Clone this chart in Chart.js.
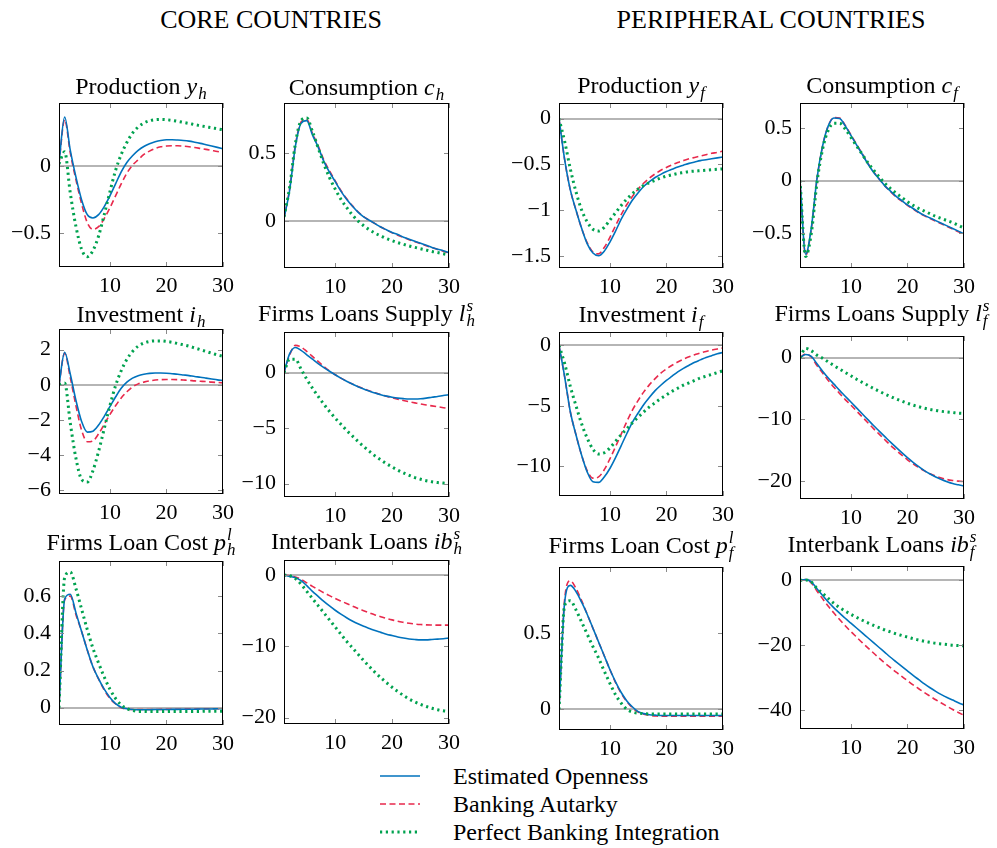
<!DOCTYPE html>
<html><head><meta charset="utf-8">
<script src="https://cdn.jsdelivr.net/npm/chart.js@4.4.1/dist/chart.umd.min.js"></script>
<style>
html,body{margin:0;padding:0;background:#fff;}
body{width:997px;height:848px;position:relative;overflow:hidden;font-family:"Liberation Serif",serif;color:#000;}
canvas.panel{position:absolute;}
.hdr{position:absolute;font-size:26px;line-height:26px;white-space:nowrap;transform:translateX(-50%);}
.leg{position:absolute;font-size:24px;line-height:24px;white-space:nowrap;left:453px;}
</style></head><body>
<div class="hdr" style="left:271px;top:7px">CORE COUNTRIES</div>
<div class="hdr" style="left:771px;top:7px">PERIPHERAL COUNTRIES</div>
<canvas id="legendLines" width="60" height="84" style="position:absolute;left:370px;top:762px"></canvas>
<div class="leg" style="top:764px">Estimated Openness</div>
<div class="leg" style="top:792px">Banking Autarky</div>
<div class="leg" style="top:820px">Perfect Banking Integration</div>
<script>
// ---------------- DATA ----------------
const periods = [1,2,3,4,5,6,7,8,9,10,11,12,13,14,15,16,17,18,19,20,21,22,23,24,25,26,27,28,29,30];
const xTicks = [10,20,30];
const seriesNames = ['Estimated Openness','Banking Autarky','Perfect Banking Integration'];

// Production y_h
const yh_est = [0.03,0.37,0.12,-0.08,-0.25,-0.36,-0.385,-0.36,-0.30,-0.22,-0.13,-0.04,0.03,0.08,0.12,0.15,0.17,0.185,0.195,0.2,0.2,0.198,0.195,0.19,0.182,0.173,0.163,0.153,0.143,0.133];
const yh_aut = [0.02,0.35,0.1,-0.1,-0.28,-0.42,-0.47,-0.45,-0.39,-0.31,-0.22,-0.13,-0.05,0.01,0.05,0.09,0.115,0.135,0.147,0.153,0.155,0.155,0.152,0.148,0.142,0.135,0.128,0.12,0.112,0.105];
const yh_int = [0.02,0.11,-0.2,-0.45,-0.62,-0.675,-0.63,-0.52,-0.36,-0.19,-0.03,0.09,0.18,0.25,0.295,0.325,0.342,0.35,0.352,0.35,0.345,0.338,0.33,0.322,0.313,0.305,0.297,0.29,0.282,0.275];
const yh_ticks = [-0.5,0];
// Consumption c_h
const ch_est = [0.02,0.23,0.55,0.72,0.74,0.635,0.545,0.44,0.36,0.29,0.22,0.16,0.11,0.065,0.03,0.005,-0.02,-0.045,-0.065,-0.085,-0.1,-0.12,-0.135,-0.15,-0.165,-0.18,-0.195,-0.208,-0.22,-0.235];
const ch_aut = [0.02,0.24,0.56,0.73,0.75,0.645,0.555,0.45,0.37,0.295,0.225,0.165,0.113,0.068,0.032,0.005,-0.02,-0.045,-0.067,-0.087,-0.105,-0.122,-0.138,-0.153,-0.168,-0.183,-0.197,-0.21,-0.223,-0.238];
const ch_int = [0.03,0.25,0.57,0.74,0.76,0.66,0.54,0.42,0.32,0.235,0.16,0.1,0.045,0.0,-0.035,-0.065,-0.09,-0.11,-0.13,-0.145,-0.16,-0.172,-0.185,-0.195,-0.205,-0.215,-0.225,-0.233,-0.242,-0.25];
const ch_ticks = [0,0.5];
// Production y_f
const yf_est = [0,-0.45,-0.78,-1.0,-1.2,-1.37,-1.47,-1.5,-1.45,-1.35,-1.23,-1.1,-0.99,-0.89,-0.81,-0.74,-0.69,-0.645,-0.61,-0.58,-0.555,-0.53,-0.51,-0.49,-0.475,-0.46,-0.45,-0.44,-0.43,-0.42];
const yf_aut = [0,-0.45,-0.78,-1.0,-1.2,-1.36,-1.46,-1.48,-1.41,-1.3,-1.17,-1.05,-0.94,-0.85,-0.77,-0.705,-0.65,-0.605,-0.565,-0.535,-0.505,-0.48,-0.46,-0.44,-0.425,-0.41,-0.395,-0.38,-0.37,-0.355];
const yf_int = [0,-0.25,-0.55,-0.8,-1.0,-1.13,-1.21,-1.23,-1.19,-1.11,-1.03,-0.95,-0.88,-0.82,-0.77,-0.73,-0.7,-0.675,-0.65,-0.63,-0.615,-0.6,-0.59,-0.58,-0.575,-0.57,-0.565,-0.56,-0.555,-0.55];
const yf_ticks = [-1.5,-1,-0.5,0];
// Consumption c_f
const cf_est = [0,-0.7,-0.45,0.02,0.33,0.52,0.595,0.59,0.52,0.43,0.34,0.25,0.16,0.08,0.015,-0.05,-0.1,-0.15,-0.19,-0.23,-0.265,-0.3,-0.33,-0.355,-0.38,-0.405,-0.43,-0.455,-0.48,-0.505];
const cf_aut = [0,-0.71,-0.46,0.01,0.33,0.52,0.6,0.595,0.525,0.435,0.345,0.255,0.165,0.085,0.015,-0.05,-0.105,-0.155,-0.195,-0.235,-0.27,-0.305,-0.335,-0.36,-0.385,-0.41,-0.435,-0.46,-0.485,-0.505];
const cf_int = [0,-0.72,-0.5,-0.02,0.3,0.48,0.545,0.545,0.49,0.41,0.33,0.25,0.17,0.1,0.035,-0.025,-0.075,-0.12,-0.16,-0.2,-0.235,-0.265,-0.29,-0.315,-0.34,-0.36,-0.38,-0.4,-0.425,-0.45];
const cf_ticks = [-0.5,0,0.5];
// Investment i_h
const ih_est = [0,1.85,0.6,-0.9,-2.1,-2.7,-2.65,-2.3,-1.8,-1.25,-0.7,-0.2,0.15,0.38,0.52,0.6,0.65,0.67,0.67,0.66,0.63,0.6,0.56,0.52,0.47,0.43,0.38,0.33,0.28,0.24];
const ih_aut = [0,1.8,0.4,-1.2,-2.6,-3.25,-3.2,-2.8,-2.25,-1.7,-1.2,-0.75,-0.4,-0.12,0.05,0.15,0.22,0.27,0.29,0.3,0.3,0.29,0.27,0.25,0.22,0.2,0.18,0.15,0.13,0.11];
const ih_int = [0,0.1,-2.2,-4.2,-5.4,-5.55,-4.9,-3.8,-2.5,-1.2,-0.05,0.8,1.45,1.9,2.2,2.38,2.47,2.5,2.5,2.47,2.42,2.35,2.28,2.2,2.1,2.0,1.9,1.8,1.7,1.62];
const ih_ticks = [-6,-4,-2,0,2];
// Firms Loans Supply l_h^s
const lh_est = [0,1.7,2.25,2.0,1.6,1.2,0.8,0.45,0.12,-0.2,-0.5,-0.78,-1.03,-1.27,-1.48,-1.67,-1.85,-2.0,-2.12,-2.22,-2.3,-2.35,-2.38,-2.38,-2.36,-2.3,-2.22,-2.15,-2.07,-2.0];
const lh_aut = [0,1.6,2.45,2.3,1.9,1.45,1.0,0.55,0.15,-0.2,-0.5,-0.78,-1.03,-1.25,-1.46,-1.65,-1.82,-1.98,-2.13,-2.27,-2.4,-2.52,-2.63,-2.73,-2.83,-2.92,-3.0,-3.08,-3.16,-3.25];
const lh_int = [0,1.2,1.2,0.3,-0.6,-1.4,-2.15,-2.85,-3.5,-4.1,-4.65,-5.2,-5.7,-6.2,-6.65,-7.1,-7.5,-7.85,-8.2,-8.5,-8.78,-9.03,-9.25,-9.45,-9.6,-9.73,-9.83,-9.9,-9.95,-10.0];
const lh_ticks = [-10,-5,0];
// Investment i_f
const if_est = [0,-2.6,-5.5,-7.4,-9.1,-10.5,-11.3,-11.35,-10.9,-10.2,-9.3,-8.3,-7.3,-6.35,-5.6,-4.9,-4.3,-3.75,-3.3,-2.9,-2.55,-2.2,-1.9,-1.65,-1.4,-1.2,-1.0,-0.85,-0.7,-0.58];
const if_aut = [0,-2.6,-5.5,-7.4,-9.1,-10.4,-11.0,-10.9,-10.3,-9.4,-8.4,-7.35,-6.3,-5.35,-4.55,-3.85,-3.25,-2.75,-2.3,-1.95,-1.65,-1.38,-1.15,-0.95,-0.78,-0.62,-0.5,-0.39,-0.3,-0.22];
const if_int = [0,-1.5,-3.4,-5.0,-6.5,-7.7,-8.6,-9.0,-8.9,-8.5,-7.95,-7.4,-6.9,-6.4,-5.95,-5.5,-5.1,-4.75,-4.4,-4.1,-3.8,-3.55,-3.3,-3.1,-2.9,-2.7,-2.55,-2.4,-2.25,-2.1];
const if_ticks = [-10,-5,0];
// Firms Loans Supply l_f^s
const lf_est = [0,0.5,0.2,-1.0,-2.2,-3.3,-4.3,-5.3,-6.25,-7.2,-8.15,-9.1,-10.05,-11.0,-11.9,-12.8,-13.7,-14.55,-15.4,-16.2,-16.95,-17.65,-18.3,-18.85,-19.35,-19.75,-20.1,-20.4,-20.6,-20.8];
const lf_aut = [0,0.6,0.1,-1.3,-2.5,-3.7,-4.8,-5.8,-6.8,-7.7,-8.65,-9.6,-10.55,-11.5,-12.4,-13.3,-14.2,-15.0,-15.8,-16.55,-17.2,-17.8,-18.35,-18.8,-19.2,-19.5,-19.75,-19.9,-20.0,-20.1];
const lf_int = [0,1.5,1.1,0.4,-0.1,-0.7,-1.3,-1.85,-2.4,-2.95,-3.5,-4.0,-4.5,-5.0,-5.45,-5.9,-6.3,-6.7,-7.05,-7.4,-7.7,-7.95,-8.2,-8.4,-8.55,-8.7,-8.8,-8.9,-9.0,-9.05];
const lf_ticks = [-20,-10,0];
// Firms Loan Cost p_h^l
const ph_est = [0,0.585,0.61,0.51,0.41,0.31,0.22,0.155,0.1,0.055,0.022,0.003,-0.006,-0.01,-0.011,-0.011,-0.011,-0.01,-0.01,-0.01,-0.009,-0.009,-0.008,-0.008,-0.008,-0.007,-0.007,-0.007,-0.006,-0.006];
const ph_aut = [0,0.58,0.6,0.5,0.41,0.31,0.22,0.155,0.095,0.05,0.02,0.0,-0.008,-0.01,-0.01,-0.01,-0.01,-0.01,-0.009,-0.009,-0.008,-0.008,-0.008,-0.007,-0.007,-0.007,-0.006,-0.006,-0.006,-0.006];
const ph_int = [0,0.7,0.73,0.64,0.53,0.42,0.32,0.24,0.165,0.1,0.05,0.015,-0.005,-0.015,-0.02,-0.02,-0.021,-0.021,-0.021,-0.021,-0.02,-0.02,-0.02,-0.02,-0.02,-0.02,-0.019,-0.019,-0.019,-0.019];
const ph_ticks = [0,0.2,0.4,0.6];
// Interbank Loans ib_h^s
const ibh_est = [0,-0.2,-0.4,-0.8,-1.5,-2.3,-3.0,-3.7,-4.35,-4.95,-5.5,-6.0,-6.45,-6.85,-7.2,-7.5,-7.8,-8.05,-8.3,-8.5,-8.7,-8.85,-8.97,-9.05,-9.1,-9.1,-9.05,-9.0,-8.95,-8.85];
const ibh_aut = [0,-0.1,-0.3,-0.6,-1.1,-1.6,-2.05,-2.5,-2.9,-3.3,-3.65,-4.0,-4.35,-4.7,-5.0,-5.3,-5.6,-5.85,-6.1,-6.3,-6.5,-6.65,-6.78,-6.88,-6.95,-7.0,-7.02,-7.03,-7.03,-7.03];
const ibh_int = [0,-0.1,-0.5,-1.3,-2.3,-3.3,-4.3,-5.3,-6.3,-7.3,-8.3,-9.3,-10.2,-11.1,-12.0,-12.85,-13.65,-14.4,-15.1,-15.75,-16.35,-16.9,-17.4,-17.8,-18.15,-18.45,-18.7,-18.9,-19.05,-19.15];
const ibh_ticks = [-20,-10,0];
// Firms Loan Cost p_f^l
const pf_est = [0,0.7,0.81,0.77,0.7,0.62,0.53,0.44,0.35,0.26,0.18,0.11,0.055,0.015,-0.015,-0.028,-0.035,-0.038,-0.04,-0.04,-0.04,-0.04,-0.04,-0.04,-0.04,-0.04,-0.04,-0.04,-0.04,-0.04];
const pf_aut = [0,0.72,0.84,0.79,0.71,0.62,0.53,0.44,0.35,0.26,0.175,0.105,0.05,0.01,-0.018,-0.032,-0.04,-0.043,-0.045,-0.045,-0.045,-0.045,-0.045,-0.045,-0.045,-0.045,-0.045,-0.045,-0.045,-0.045];
const pf_int = [0,0.68,0.71,0.65,0.57,0.49,0.41,0.335,0.25,0.17,0.095,0.04,0.0,-0.018,-0.025,-0.028,-0.03,-0.03,-0.03,-0.03,-0.03,-0.03,-0.03,-0.03,-0.03,-0.03,-0.03,-0.03,-0.03,-0.03];
const pf_ticks = [0,0.5];
// Interbank Loans ib_f^s
const ibf_est = [0,0.2,-0.5,-2.6,-4.7,-6.7,-8.5,-10.1,-11.7,-13.2,-14.7,-16.2,-17.7,-19.2,-20.7,-22.2,-23.7,-25.1,-26.5,-27.9,-29.3,-30.6,-31.9,-33.1,-34.2,-35.2,-36.1,-36.9,-37.7,-38.4];
const ibf_aut = [0,0.2,-0.8,-3.3,-5.7,-8.0,-10.1,-12.1,-14.0,-15.8,-17.5,-19.2,-20.8,-22.4,-24.0,-25.5,-26.9,-28.3,-29.6,-30.9,-32.2,-33.4,-34.6,-35.7,-36.8,-37.8,-38.8,-39.8,-40.7,-41.6];
const ibf_int = [0,0.1,-0.5,-2.5,-4.0,-5.6,-7.1,-8.4,-9.5,-10.5,-11.4,-12.3,-13.1,-13.9,-14.6,-15.3,-15.9,-16.5,-17.0,-17.5,-18.0,-18.4,-18.8,-19.1,-19.4,-19.6,-19.8,-20.0,-20.1,-20.2];
const ibf_ticks = [-40,-20,0];

// Titles (text)
const t_yh = [{t:'Production '},{t:'y',i:1},{sub:'h'}];
const t_ch = [{t:'Consumption '},{t:'c',i:1},{sub:'h'}];
const t_yf = [{t:'Production '},{t:'y',i:1},{sub:'f'}];
const t_cf = [{t:'Consumption '},{t:'c',i:1},{sub:'f'}];
const t_ih = [{t:'Investment '},{t:'i',i:1},{sub:'h'}];
const t_lh = [{t:'Firms Loans Supply '},{t:'l',i:1},{sub:'h',sup:'s'}];
const t_if = [{t:'Investment '},{t:'i',i:1},{sub:'f'}];
const t_lf = [{t:'Firms Loans Supply '},{t:'l',i:1},{sub:'f',sup:'s'}];
const t_ph = [{t:'Firms Loan Cost '},{t:'p',i:1},{sub:'h',sup:'l'}];
const t_ibh = [{t:'Interbank Loans '},{t:'ib',i:1},{sub:'h',sup:'s'}];
const t_pf = [{t:'Firms Loan Cost '},{t:'p',i:1},{sub:'f',sup:'l'}];
const t_ibf = [{t:'Interbank Loans '},{t:'ib',i:1},{sub:'f',sup:'s'}];

// ---------------- LAYOUT / STYLE ----------------
const COLORS = ['#0072BD','#E8294C','#00A24F'];
const PL = 62, PT = 50, PR = 34, PB = 30;
const panels = [
  {box:[59,103,223,267], y:[-0.752,0.475], ticks:yh_ticks, title:t_yh, base:94, s:[yh_est,yh_aut,yh_int]},
  {box:[284,103,449,268], y:[-0.347,0.87], ticks:ch_ticks, title:t_ch, base:95, s:[ch_est,ch_aut,ch_int]},
  {box:[559,103,723,268], y:[-1.634,0.17], ticks:yf_ticks, title:t_yf, base:93, s:[yf_est,yf_aut,yf_int]},
  {box:[800,103,964,268], y:[-0.83,0.737], ticks:cf_ticks, title:t_cf, base:93, s:[cf_est,cf_aut,cf_int]},
  {box:[59,329,223,494], y:[-6.23,3.18], ticks:ih_ticks, title:t_ih, base:321.5, s:[ih_est,ih_aut,ih_int]},
  {box:[284,332,449,497], y:[-11.2,3.65], ticks:lh_ticks, title:t_lh, base:321, s:[lh_est,lh_aut,lh_int]},
  {box:[559,332,723,496], y:[-12.48,1.11], ticks:if_ticks, title:t_if, base:321.5, s:[if_est,if_aut,if_int]},
  {box:[800,336,964,499], y:[-22.9,3.5], ticks:lf_ticks, title:t_lf, base:321, s:[lf_est,lf_aut,lf_int]},
  {box:[59,561,223,725], y:[-0.093,0.789], ticks:ph_ticks, title:t_ph, base:550, s:[ph_est,ph_aut,ph_int]},
  {box:[284,560,449,724], y:[-20.9,2.1], ticks:ibh_ticks, title:t_ibh, base:549, s:[ibh_est,ibh_aut,ibh_int]},
  {box:[559,567,723,730], y:[-0.135,0.93], ticks:pf_ticks, title:t_pf, base:553, s:[pf_est,pf_aut,pf_int]},
  {box:[800,566,964,729], y:[-45.8,4.4], ticks:ibf_ticks, title:t_ibf, base:551.5, s:[ibf_est,ibf_aut,ibf_int]}
];

const FAM = '"Liberation Serif"';
const fontN = '24px ' + FAM, fontI = 'italic 24px ' + FAM, fontS = 'italic 17px ' + FAM;
function fmt(v){ return (v < 0 ? '\u2212' : '') + String(Math.abs(v)); }

function drawTitle(ctx, parts, cx, base){
  let w = 0;
  const widths = parts.map(p => {
    let pw;
    if (p.t !== undefined){ ctx.font = p.i ? fontI : fontN; pw = ctx.measureText(p.t).width; }
    else { ctx.font = fontS; pw = Math.max(p.sub ? ctx.measureText(p.sub).width : 0, p.sup ? ctx.measureText(p.sup).width : 0) + 1; }
    w += pw; return pw;
  });
  let x = cx - w/2;
  ctx.save(); ctx.fillStyle = '#000'; ctx.textBaseline = 'alphabetic'; ctx.textAlign = 'left';
  parts.forEach((p, k) => {
    if (p.t !== undefined){ ctx.font = p.i ? fontI : fontN; ctx.fillText(p.t, x, base); }
    else {
      ctx.font = fontS;
      if (p.sub) ctx.fillText(p.sub, x + 1, base + 5);
      if (p.sup) ctx.fillText(p.sup, x + 1, base - 10);
    }
    x += widths[k];
  });
  ctx.restore();
}

const framePlugin = {
  id: 'frame',
  beforeDatasetsDraw(chart){
    const {ctx, chartArea:a, scales:{y}} = chart;
    const yz = Math.round(y.getPixelForValue(0));
    ctx.save(); ctx.strokeStyle = '#9d9d9d'; ctx.lineWidth = 1.7;
    ctx.beginPath(); ctx.moveTo(a.left, yz); ctx.lineTo(a.right, yz); ctx.stroke(); ctx.restore();
  },
  afterDraw(chart){
    const {ctx, chartArea:a, scales:{x, y}} = chart;
    ctx.save();
    ctx.strokeStyle = '#8a8a8a'; ctx.lineWidth = 1;
    ctx.beginPath();
    x.ticks.forEach(t => { const px = Math.round(x.getPixelForValue(t.value)) + 0.5;
      ctx.moveTo(px, a.bottom); ctx.lineTo(px, a.bottom - 5); ctx.moveTo(px, a.top); ctx.lineTo(px, a.top + 5); });
    y.ticks.forEach(t => { const py = Math.round(y.getPixelForValue(t.value)) + 0.5;
      ctx.moveTo(a.left, py); ctx.lineTo(a.left + 5, py); ctx.moveTo(a.right, py); ctx.lineTo(a.right - 5, py); });
    ctx.stroke();
    ctx.strokeStyle = '#000'; ctx.lineWidth = 1;
    ctx.strokeRect(a.left + 0.5, a.top + 0.5, a.right - a.left - 1, a.bottom - a.top - 1);
    const o = chart.options.plugins.frame;
    drawTitle(ctx, o.title, (a.left + a.right)/2, o.base);
    ctx.restore();
  }
};

Chart.defaults.font.family = 'Liberation Serif';

panels.forEach(p => {
  const [L, T, R, B] = p.box;
  const cv = document.createElement('canvas');
  cv.className = 'panel';
  cv.width = (R - L) + PL + PR; cv.height = (B - T) + PT + PB;
  cv.style.left = (L - PL) + 'px'; cv.style.top = (T - PT) + 'px';
  document.body.appendChild(cv);
  const styles = [
    {borderWidth:1.6, borderDash:[], order:1},
    {borderWidth:1.6, borderDash:[6,3.5], order:2},
    {borderWidth:3, borderDash:[2.2,3.6], order:0}
  ];
  new Chart(cv, {
    type: 'line',
    data: { datasets: p.s.map((vals, i) => ({
      label: seriesNames[i],
      data: periods.map((t, k) => ({x:t, y:vals[k]})),
      borderColor: COLORS[i], backgroundColor: COLORS[i],
      borderWidth: styles[i].borderWidth, borderDash: styles[i].borderDash,
      borderCapStyle: 'butt', order: styles[i].order,
      pointRadius: 0, fill: false, cubicInterpolationMode: 'monotone'
    })) },
    options: {
      responsive: false, animation: false, devicePixelRatio: 1, events: [],
      layout: { padding: {top: PT, right: PR, left: 0, bottom: 0} },
      plugins: { legend:{display:false}, tooltip:{enabled:false}, title:{display:false},
                 frame: { title: p.title, base: p.base - (T - PT) } },
      scales: {
        x: { type:'linear', min:1, max:30,
             afterBuildTicks: s => { s.ticks = xTicks.map(v => ({value:v})); },
             afterFit: s => { s.height = PB; },
             grid:{display:false, drawTicks:false}, border:{display:false},
             ticks:{ autoSkip:false, maxRotation:0, padding:6, color:'#000', font:{family:'Liberation Serif', size:22}, callback: v => fmt(v) } },
        y: { type:'linear', min:p.y[0], max:p.y[1],
             afterBuildTicks: s => { s.ticks = p.ticks.map(v => ({value:v})); },
             afterFit: s => { s.width = PL; },
             grid:{display:false, drawTicks:false}, border:{display:false},
             ticks:{ autoSkip:false, padding:8, color:'#000', font:{family:'Liberation Serif', size:22}, callback: v => fmt(v) } }
      }
    },
    plugins: [framePlugin]
  });
});

// legend line samples
(function(){
  const c = document.getElementById('legendLines').getContext('2d');
  const ys = [14, 42, 70];
  const st = [{w:1.6, d:[]},{w:1.6, d:[6,3.5]},{w:3, d:[2.2,3.6]}];
  st.forEach((s, i) => {
    c.save(); c.strokeStyle = COLORS[i]; c.lineWidth = s.w; c.setLineDash(s.d); c.lineCap = 'butt';
    c.beginPath(); c.moveTo(10, ys[i]); c.lineTo(50, ys[i]); c.stroke(); c.restore();
  });
})();
</script>
</body></html>
